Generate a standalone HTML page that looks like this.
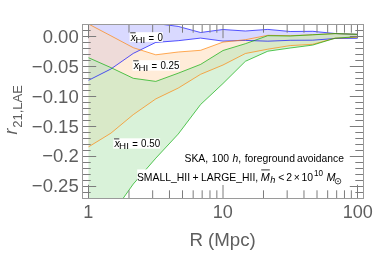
<!DOCTYPE html>
<html><head><meta charset="utf-8"><style>html,body{margin:0;padding:0;background:#fff;}body{width:374px;height:253px;position:relative;overflow:hidden;font-family:"Liberation Sans",sans-serif;}</style></head><body><svg width="374" height="253" viewBox="0 0 374 253" style="position:absolute;left:0;top:0;will-change:transform">
<defs><clipPath id="c"><rect x="82.50" y="24.50" width="281.00" height="174.00"/></clipPath></defs>
<g clip-path="url(#c)">
<polygon points="88.5,10.0 110.9,12.0 133.3,15.0 155.8,23.5 178.2,26.4 200.6,32.5 223.0,29.5 245.4,31.0 267.8,29.4 290.2,31.5 312.7,31.3 335.1,33.5 357.5,34.3 357.5,38.3 335.1,38.5 312.7,40.2 290.2,40.3 267.8,41.2 245.4,40.4 223.0,41.1 200.6,38.1 178.2,40.7 155.8,42.4 133.3,53.4 110.9,69.0 88.5,80.3" fill="rgb(188,188,255)" fill-opacity="0.565"/>
<polygon points="88.5,24.0 110.9,35.8 133.3,47.7 155.8,54.8 178.2,52.0 200.6,50.3 223.0,42.1 245.4,39.7 267.8,35.3 290.2,35.7 312.7,34.7 335.1,33.6 357.5,34.3 357.5,37.3 335.1,38.2 312.7,44.3 290.2,45.6 267.8,49.2 245.4,53.5 223.0,65.0 200.6,74.3 178.2,88.1 155.8,98.9 133.3,114.6 110.9,133.2 88.5,146.9" fill="rgb(255,221,188)" fill-opacity="0.565"/>
<polygon points="88.5,57.7 110.9,67.6 133.3,78.3 155.8,81.4 178.2,73.2 200.6,64.4 223.0,50.5 245.4,43.7 267.8,35.7 290.2,36.0 312.7,34.8 335.1,33.6 357.5,34.3 357.5,36.7 335.1,38.2 312.7,45.1 290.2,48.0 267.8,51.2 245.4,61.3 223.0,83.5 200.6,104.5 178.2,134.1 155.8,158.2 133.3,184.0 110.9,215.6 88.5,250.0" fill="rgb(188,232,188)" fill-opacity="0.565"/>
<polyline points="88.5,10.0 110.9,12.0 133.3,15.0 155.8,23.5 178.2,26.4 200.6,32.5 223.0,29.5 245.4,31.0 267.8,29.4 290.2,31.5 312.7,31.3 335.1,33.5 357.5,34.3" fill="none" stroke="rgb(0,0,255)" stroke-width="1" stroke-opacity="0.66" stroke-linejoin="round"/>
<polyline points="88.5,80.3 110.9,69.0 133.3,53.4 155.8,42.4 178.2,40.7 200.6,38.1 223.0,41.1 245.4,40.4 267.8,41.2 290.2,40.3 312.7,40.2 335.1,38.5 357.5,38.3" fill="none" stroke="rgb(0,0,255)" stroke-width="1" stroke-opacity="0.66" stroke-linejoin="round"/>
<polyline points="88.5,24.0 110.9,35.8 133.3,47.7 155.8,54.8 178.2,52.0 200.6,50.3 223.0,42.1 245.4,39.7 267.8,35.3 290.2,35.7 312.7,34.7 335.1,33.6 357.5,34.3" fill="none" stroke="rgb(255,128,0)" stroke-width="1" stroke-opacity="0.66" stroke-linejoin="round"/>
<polyline points="88.5,146.9 110.9,133.2 133.3,114.6 155.8,98.9 178.2,88.1 200.6,74.3 223.0,65.0 245.4,53.5 267.8,49.2 290.2,45.6 312.7,44.3 335.1,38.2 357.5,37.3" fill="none" stroke="rgb(255,128,0)" stroke-width="1" stroke-opacity="0.66" stroke-linejoin="round"/>
<polyline points="88.5,57.7 110.9,67.6 133.3,78.3 155.8,81.4 178.2,73.2 200.6,64.4 223.0,50.5 245.4,43.7 267.8,35.7 290.2,36.0 312.7,34.8 335.1,33.6 357.5,34.3" fill="none" stroke="rgb(0,170,0)" stroke-width="1" stroke-opacity="0.66" stroke-linejoin="round"/>
<polyline points="88.5,250.0 110.9,215.6 133.3,184.0 155.8,158.2 178.2,134.1 200.6,104.5 223.0,83.5 245.4,61.3 267.8,51.2 290.2,48.0 312.7,45.1 335.1,38.2 357.5,36.7" fill="none" stroke="rgb(0,170,0)" stroke-width="1" stroke-opacity="0.66" stroke-linejoin="round"/>
</g>
<path d="M88.50 198.50v-13.70M88.50 24.50v13.70M223.00 198.50v-13.70M223.00 24.50v13.70M357.50 198.50v-13.70M357.50 24.50v13.70M128.99 198.50v-8.20M128.99 24.50v8.20M152.67 198.50v-8.20M152.67 24.50v8.20M169.48 198.50v-8.20M169.48 24.50v8.20M182.51 198.50v-8.20M182.51 24.50v8.20M193.16 198.50v-8.20M193.16 24.50v8.20M202.17 198.50v-8.20M202.17 24.50v8.20M209.97 198.50v-8.20M209.97 24.50v8.20M216.85 198.50v-8.20M216.85 24.50v8.20M263.49 198.50v-8.20M263.49 24.50v8.20M287.17 198.50v-8.20M287.17 24.50v8.20M303.98 198.50v-8.20M303.98 24.50v8.20M317.01 198.50v-8.20M317.01 24.50v8.20M327.66 198.50v-8.20M327.66 24.50v8.20M336.67 198.50v-8.20M336.67 24.50v8.20M344.47 198.50v-8.20M344.47 24.50v8.20M351.35 198.50v-8.20M351.35 24.50v8.20M82.50 192.50h8.20M363.50 192.50h-8.20M82.50 186.50h13.70M363.50 186.50h-13.70M82.50 180.50h8.20M363.50 180.50h-8.20M82.50 174.50h8.20M363.50 174.50h-8.20M82.50 168.50h8.20M363.50 168.50h-8.20M82.50 162.50h8.20M363.50 162.50h-8.20M82.50 156.50h13.70M363.50 156.50h-13.70M82.50 150.50h8.20M363.50 150.50h-8.20M82.50 144.50h8.20M363.50 144.50h-8.20M82.50 138.50h8.20M363.50 138.50h-8.20M82.50 132.50h8.20M363.50 132.50h-8.20M82.50 126.50h13.70M363.50 126.50h-13.70M82.50 120.50h8.20M363.50 120.50h-8.20M82.50 114.50h8.20M363.50 114.50h-8.20M82.50 108.50h8.20M363.50 108.50h-8.20M82.50 102.50h8.20M363.50 102.50h-8.20M82.50 96.50h13.70M363.50 96.50h-13.70M82.50 90.50h8.20M363.50 90.50h-8.20M82.50 84.50h8.20M363.50 84.50h-8.20M82.50 78.50h8.20M363.50 78.50h-8.20M82.50 72.50h8.20M363.50 72.50h-8.20M82.50 66.50h13.70M363.50 66.50h-13.70M82.50 60.50h8.20M363.50 60.50h-8.20M82.50 54.50h8.20M363.50 54.50h-8.20M82.50 48.50h8.20M363.50 48.50h-8.20M82.50 42.50h8.20M363.50 42.50h-8.20M82.50 36.50h13.70M363.50 36.50h-13.70M82.50 30.50h8.20M363.50 30.50h-8.20" stroke="#7c7c7c" stroke-width="1" fill="none"/>
<rect x="82.50" y="24.50" width="281.00" height="174.00" fill="none" stroke="#9a9a9a" stroke-width="1"/>
<g font-family="Liberation Sans, sans-serif" font-size="19.0" fill="#5e5e5e">
<text transform="translate(78.7,42.90) scale(0.975,1)" text-anchor="end">0.00</text>
<text transform="translate(78.7,72.78) scale(0.975,1)" text-anchor="end">−0.05</text>
<text transform="translate(78.7,102.65) scale(0.975,1)" text-anchor="end">−0.10</text>
<text transform="translate(78.7,132.53) scale(0.975,1)" text-anchor="end">−0.15</text>
<text transform="translate(78.7,162.40) scale(0.975,1)" text-anchor="end">−0.2</text>
<text transform="translate(78.7,192.40) scale(0.975,1)" text-anchor="end">−0.25</text>
<text transform="translate(88.30,217.8) scale(0.95,1)" text-anchor="middle">1</text>
<text transform="translate(222.80,217.8) scale(0.95,1)" text-anchor="middle">10</text>
<text transform="translate(357.80,217.8) scale(0.95,1)" text-anchor="middle">100</text>
</g>
<text x="222.6" y="246.4" text-anchor="middle" font-family="Liberation Sans, sans-serif" font-size="18.7" fill="#5e5e5e">R (Mpc)</text>
<g transform="translate(17.2,134.6) rotate(-90)" font-family="Liberation Sans, sans-serif" fill="#5e5e5e"><text x="0" y="0" font-size="18"><tspan font-style="italic">r</tspan><tspan font-size="13" dy="4.6" dx="0.8">21,LAE</tspan></text></g>
<rect x="129.6" y="32.2" width="33.2" height="9.7" fill="#fff"/><g font-family="Liberation Sans, sans-serif" fill="#000" font-size="10.4"><text x="130.8" y="40.6" font-style="italic">x</text><text transform="translate(135.4,42.9) scale(1.1,1)" font-size="8.9">HI</text><text transform="translate(148.6,41.7) scale(0.92,1)">=</text><text transform="translate(157.4,40.5) scale(0.94,1)">0</text><path d="M130.2 32.8h5.4" stroke="#000" stroke-width="0.8"/></g>
<rect x="132.6" y="60.2" width="47.2" height="10.4" fill="#fff"/><g font-family="Liberation Sans, sans-serif" fill="#000" font-size="10.4"><text x="133.8" y="68.6" font-style="italic">x</text><text transform="translate(138.4,70.9) scale(1.1,1)" font-size="8.9">HI</text><text transform="translate(151.6,69.7) scale(0.92,1)">=</text><text transform="translate(160.4,68.5) scale(0.94,1)">0.25</text><path d="M133.2 60.8h5.4" stroke="#000" stroke-width="0.8"/></g>
<rect x="113.3" y="138.3" width="46.8" height="10.4" fill="#fff"/><g font-family="Liberation Sans, sans-serif" fill="#000" font-size="10.4"><text x="114.5" y="146.7" font-style="italic">x</text><text transform="translate(119.1,149.0) scale(1.1,1)" font-size="8.9">HI</text><text transform="translate(132.3,147.8) scale(0.92,1)">=</text><text transform="translate(141.1,146.6) scale(0.94,1)">0.50</text><path d="M113.9 138.9h5.4" stroke="#000" stroke-width="0.8"/></g>
<rect x="184.2" y="153.2" width="160.3" height="11.6" fill="#fff"/>
<text x="184.5" y="161.8" font-family="Liberation Sans, sans-serif" font-size="10.4" fill="#000" word-spacing="0.6">SKA, 100 <tspan font-style="italic">h</tspan>, foreground<tspan dx="-1.4" font-size="10.3"> avoidance</tspan></text>
<rect x="137.2" y="169.4" width="204.2" height="15.5" fill="#fff"/>
<g font-family="Liberation Sans, sans-serif" fill="#000">
<text x="136.9" y="181.0" font-size="10.4">SMALL_HII</text>
<text x="192.5" y="181.0" font-size="10.4">+</text>
<text x="201.0" y="181.0" font-size="10.4">LARGE_HII,</text>
<text x="260.7" y="181.0" font-size="10.8" font-style="italic">M</text>
<text x="270.3" y="183.4" font-size="9.2" font-style="italic">h</text>
<text x="278.3" y="181.0" font-size="10.4">&lt;</text>
<text x="286.3" y="181.0" font-size="10.4">2</text>
<text x="293.7" y="181.0" font-size="10.4">×</text>
<text x="301.4" y="181.0" font-size="10.4">10</text>
<text transform="translate(313.9,175.7) scale(0.86,1)" font-size="9.4">10</text>
<text x="326.6" y="181.0" font-size="10.8" font-style="italic">M</text>
<path d="M261.2 169.9h8.6" stroke="#000" stroke-width="0.8"/>
<circle cx="338.0" cy="181.2" r="2.8" fill="none" stroke="#000" stroke-width="0.7"/><circle cx="338.0" cy="181.2" r="0.7" fill="#000"/>
</g>
</svg></body></html>
